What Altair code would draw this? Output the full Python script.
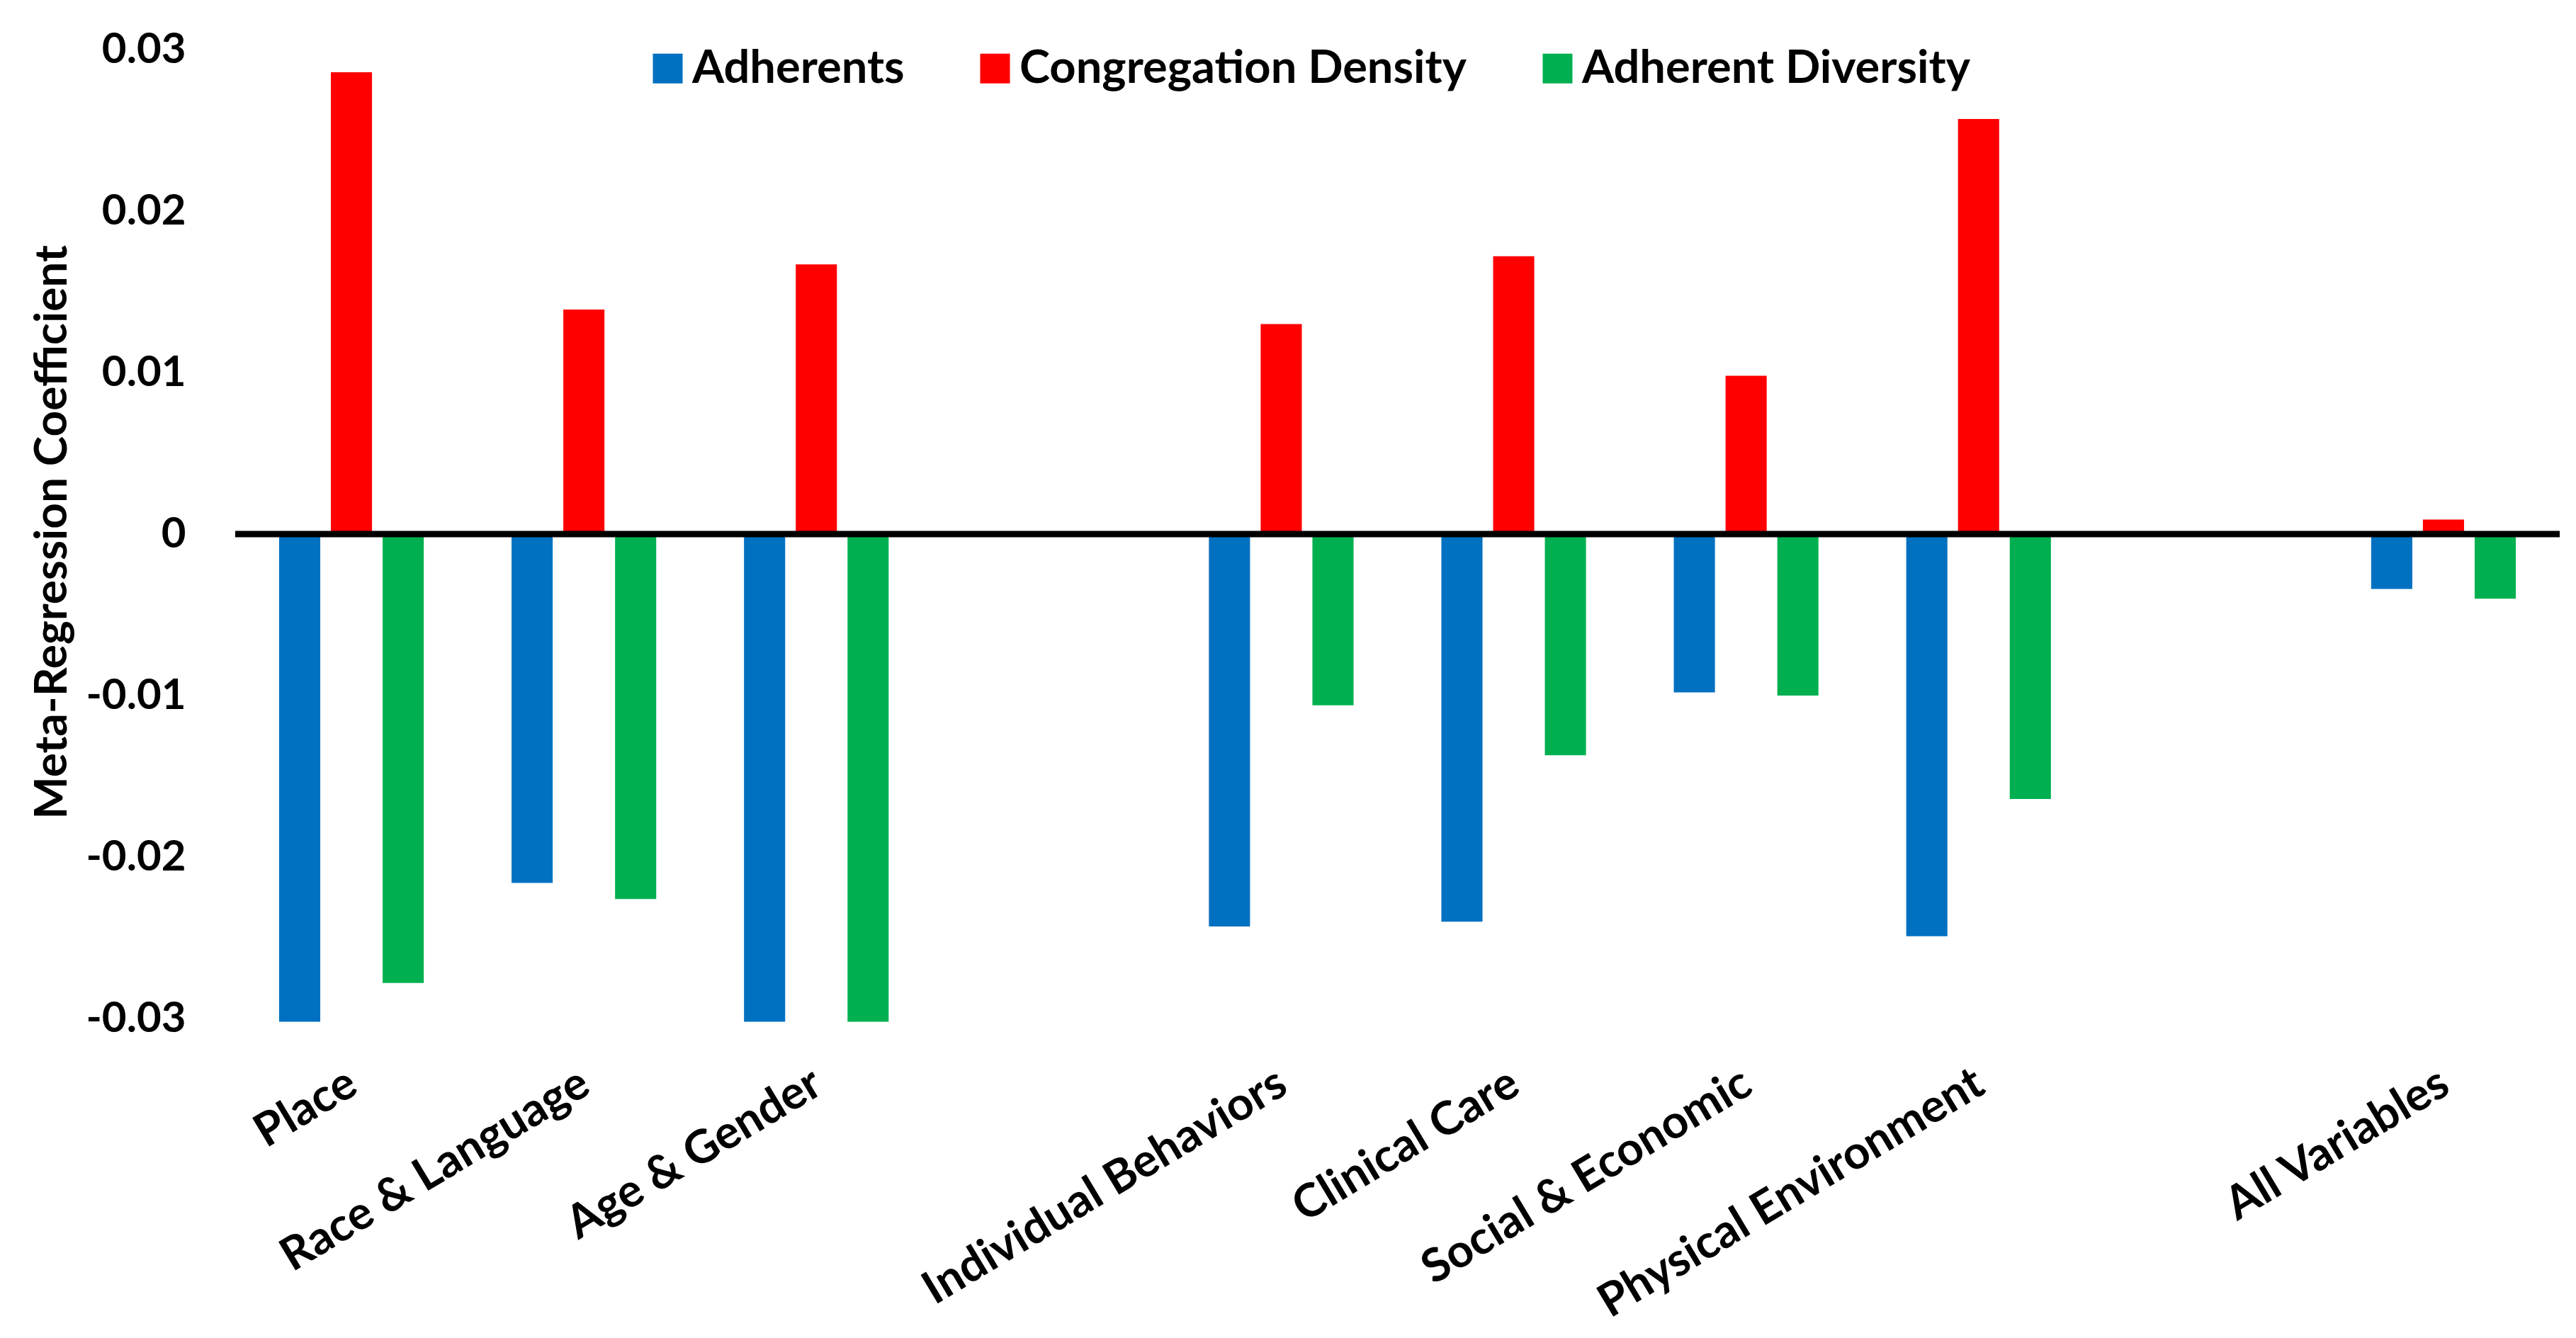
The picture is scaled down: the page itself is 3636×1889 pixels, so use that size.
import altair as alt
import pandas as pd

categories = ["Place", "Race & Language", "Age & Gender", "Individual Behaviors",
              "Clinical Care", "Social & Economic", "Physical Environment", "All Variables"]
axis_order = ["Place", "Race & Language", "Age & Gender", " ", "Individual Behaviors",
              "Clinical Care", "Social & Economic", "Physical Environment", "  ", "All Variables"]
series = ["Adherents", "Congregation Density", "Adherent Diversity"]
colors = ["#0070C0", "#FF0000", "#00B050"]

adherents = [-0.0302, -0.0216, -0.0302, -0.0243, -0.0240, -0.0098, -0.0249, -0.0034]
congregation = [0.0286, 0.0139, 0.0167, 0.0130, 0.0172, 0.0098, 0.0257, 0.0009]
diversity = [-0.0278, -0.0226, -0.0302, -0.0106, -0.0137, -0.0100, -0.0164, -0.0040]

rows = []
for s, vals in zip(series, [adherents, congregation, diversity]):
    for c, v in zip(categories, vals):
        rows.append({"Category": c, "Series": s, "Value": v})
df = pd.DataFrame(rows)

FONT = "Lato"

bars = alt.Chart(df).mark_bar().encode(
    x=alt.X("Category:N", sort=axis_order,
            scale=alt.Scale(domain=axis_order, paddingInner=0.332, paddingOuter=0.166),
            axis=alt.Axis(title=None, labelAngle=-31, labelAlign="right", labelBaseline="middle",
                          labelPadding=86, labelOffset=2, ticks=False, domain=False,
                          labelFontSize=65, labelFont=FONT, labelFontWeight="bold",
                          labelColor="black", labelLimit=2000)),
    xOffset=alt.XOffset("Series:N", sort=series,
                        scale=alt.Scale(domain=series, paddingInner=0.205, paddingOuter=0.1025)),
    y=alt.Y("Value:Q", scale=alt.Scale(domain=[-0.03, 0.03], nice=False, zero=False),
            axis=alt.Axis(title="Meta-Regression Coefficient", values=[-0.03, -0.02, -0.01, 0, 0.01, 0.02, 0.03],
                          labelExpr="datum.value == 0 ? '0' : (datum.value < 0 ? '-' : '') + format(abs(datum.value), '.2f')",
                          grid=False, ticks=False, domain=False, labelPadding=70,
                          labelFontSize=60, labelFont=FONT, labelFontWeight="bold", labelColor="black",
                          titleFontSize=64, titleFont=FONT, titleFontWeight="bold", titleColor="black",
                          titleAngle=-90, titleX=-258, titleY=681, titleAlign="center",
                          titleBaseline="middle")),
    y2=alt.datum(0),
    color=alt.Color("Series:N", sort=series,
                    scale=alt.Scale(domain=series, range=colors),
                    legend=alt.Legend(title=None, orient="none", direction="horizontal",
                                      legendX=578, legendY=-6, symbolType="square",
                                      symbolSize=1764, symbolStrokeWidth=0, labelFontSize=65,
                                      labelFont=FONT, labelFontWeight="bold", labelColor="black",
                                      labelOffset=2, columnPadding=95, padding=0,
                                      labelLimit=2000)),
)

zero = alt.Chart(pd.DataFrame({"y": [0]})).mark_rule(color="black", strokeWidth=9).encode(
    y=alt.Y("y:Q")
)

chart = alt.layer(bars, zero).properties(
    width=3281, height=1368,
    autosize=alt.AutoSizeParams(type="none"),
    padding={"left": 324, "top": 62, "right": 7, "bottom": 440},
).configure(background="white", view=alt.ViewConfig(stroke=None))

chart.save("out.html", embed_options={"renderer": "svg", "actions": False})
